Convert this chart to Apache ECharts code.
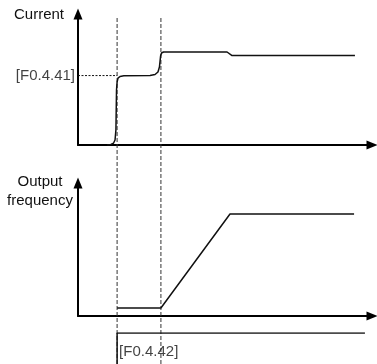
<!DOCTYPE html>
<html>
<head>
<meta charset="utf-8">
<script src="https://cdn.jsdelivr.net/npm/echarts@6/dist/echarts.min.js"></script>
<style>html,body{margin:0;padding:0;background:#fff}#c{width:377px;height:364px}</style>
</head>
<body>
<div id="c"></div>
<script>
// time axis runs 0..100 (arbitrary units), values 0..100 (% of axis height)
var currentCurve = [[9.9,0],[11.2,0.4],[12.1,1.5],[12.6,3.8],[12.9,11.5],[13.1,42],[13.3,48],[13.6,51],[14.3,52.3],[15.6,52.8],[24.5,53],[26.2,53.8],[27.2,55.7],[27.7,59.5],[28.1,68],[28.4,70.2],[29.1,71],[50.7,71],[52.4,68.3],[94.2,68.3]];
var currentLevel = [[0,53],[13.3,53]];
var freqCurve = [[13.3,6],[28.2,6],[51.7,76.7],[93.9,76.7]];
var signal = [[13.3,0],[13.3,1],[97.6,1]];
var markTimes = [13.3, 28.2];
var labelTexts = {current:'Current', freq:'Output\nfrequency', level:'[F0.4.41]', sig:'[F0.4.42]'};

var FONT = '"Liberation Sans", Arial, sans-serif';
var INK = '#111';
function axisPair(show){
  return {
    type:'value', min:0, max:100, show:show,
    axisLine:{show:true, lineStyle:{color:'#000', width:2}, symbol:['none','triangle'], symbolSize:[9,11]},
    axisTick:{show:false}, axisLabel:{show:false}, splitLine:{show:false}
  };
}
var chart = echarts.init(document.getElementById('c'), null, {renderer:'canvas'});
var xA = [0,1].map(function(i){var a=axisPair(true); a.gridIndex=i; return a;});
xA.push({type:'value',min:0,max:100,show:false,gridIndex:2});
xA.push({type:'value',min:0,max:100,show:false,gridIndex:3});
var yA = [0,1].map(function(i){var a=axisPair(true); a.gridIndex=i; return a;});
yA.push({type:'value',min:0,max:1,show:false,gridIndex:2});
yA.push({type:'value',min:0,max:1,show:false,gridIndex:3});

var series = [
  {type:'line', xAxisIndex:0, yAxisIndex:0, data:currentCurve, showSymbol:false, symbol:'none', lineStyle:{color:INK,width:1.5}, z:5},
  {type:'line', xAxisIndex:0, yAxisIndex:0, data:currentLevel, symbol:'none', lineStyle:{color:INK,width:1,type:[2,1.5]}},
  {type:'scatter', xAxisIndex:0, yAxisIndex:0, data:[currentLevel[0]], symbolSize:0,
    label:{show:true, position:'left', distance:3, formatter:labelTexts.level, color:'#111', fontSize:15, fontFamily:FONT}},
  {type:'line', xAxisIndex:1, yAxisIndex:1, data:freqCurve, symbol:'none', lineStyle:{color:INK,width:1.5}, z:5},
  {type:'line', xAxisIndex:2, yAxisIndex:2, data:signal, symbol:'none', lineStyle:{color:INK,width:1.5}, z:5},
  {type:'scatter', xAxisIndex:2, yAxisIndex:2, data:[[signal[0][0],0.39]], symbolSize:0,
    label:{show:true, position:'right', distance:2, formatter:labelTexts.sig, color:'#111', fontSize:15, fontFamily:FONT}}
];
markTimes.forEach(function(t){
  series.push({type:'line', xAxisIndex:3, yAxisIndex:3, data:[[t,0],[t,1]], symbol:'none', lineStyle:{color:'#333',width:1,type:[4,2]}, z:1});
});

chart.setOption({
  animation:false,
  backgroundColor:'#fff',
  grid:[
    {left:78, right:5, top:14, height:131},
    {left:78, right:5, top:183, height:133},
    {left:78, right:5, top:333, bottom:0},
    {left:78, right:5, top:17, bottom:0}
  ],
  xAxis:xA, yAxis:yA, series:series,
  graphic:[
    {type:'text', left:14, top:7, style:{text:labelTexts.current, fill:'#111', font:'15px '+FONT}},
    {type:'text', x:40, y:172, style:{text:labelTexts.freq, fill:'#111', font:'15px '+FONT, align:'center', lineHeight:19}}
  ]
});
</script>
</body>
</html>
